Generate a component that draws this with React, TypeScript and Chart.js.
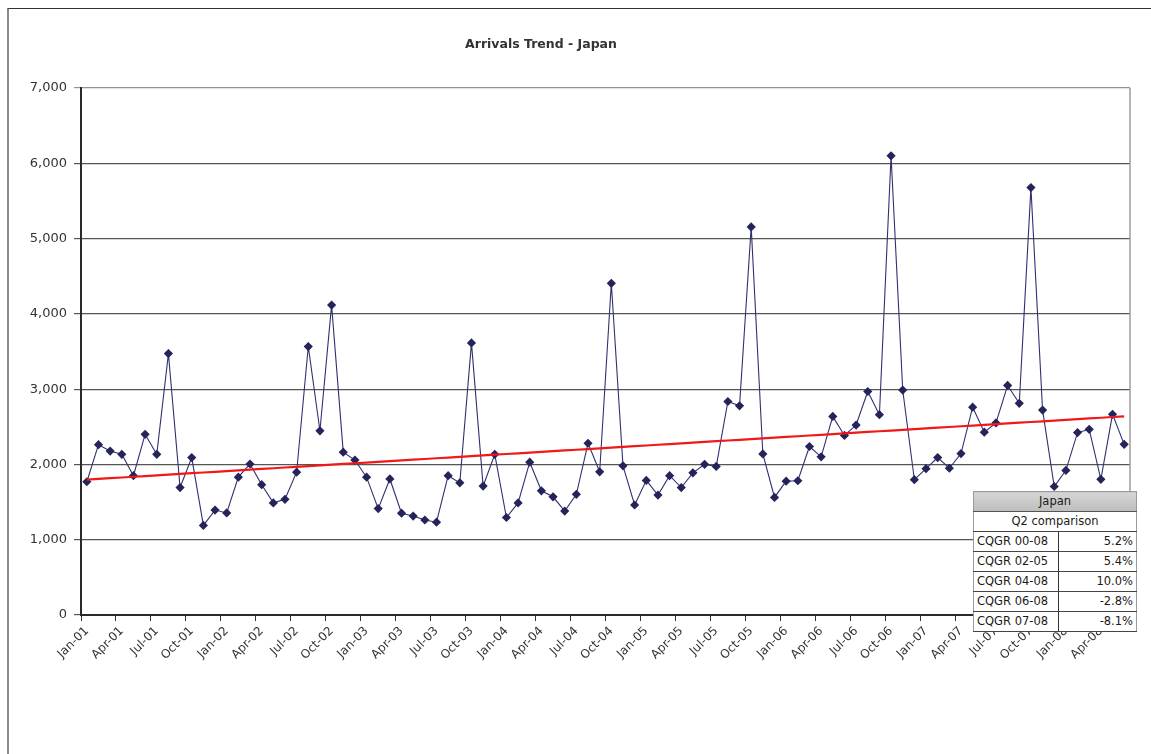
import { useEffect, useRef } from 'react';
import { Chart, registerables } from 'chart.js';

Chart.register(...registerables);

// Monthly categories, Jan-01 through Jun-08
const MONTHS = ['Jan', 'Feb', 'Mar', 'Apr', 'May', 'Jun', 'Jul', 'Aug', 'Sep', 'Oct', 'Nov', 'Dec'];
const YEARS = ['01', '02', '03', '04', '05', '06', '07', '08'];
const MONTH_COUNT = 90;
const categories: string[] = YEARS.flatMap((y) => MONTHS.map((m) => `${m}-${y}`)).slice(0, MONTH_COUNT);

// Monthly arrivals from Japan
const arrivals = [
  1770, 2262, 2177, 2134, 1850, 2400, 2134, 3472, 1693, 2091, 1190, 1394,
  1356, 1831, 2006, 1731, 1489, 1537, 1897, 3566, 2447, 4116, 2163, 2058,
  1831, 1413, 1807, 1352, 1314, 1262, 1233, 1850, 1755, 3614, 1712, 2134,
  1295, 1489, 2030, 1650, 1570, 1380, 1603, 2281, 1902, 4406, 1982, 1461,
  1788, 1593, 1850, 1693, 1888, 2001, 1973, 2836, 2779, 5155, 2139, 1562,
  1778, 1783, 2238, 2101, 2637, 2385, 2523, 2969, 2661, 6099, 2988, 1797,
  1944, 2091, 1949, 2144, 2760, 2428, 2551, 3049, 2812, 5677, 2722, 1707,
  1921, 2423, 2466, 1802, 2665, 2267,
];

// Y axis range
const Y_MIN = 0;
const Y_MAX = 7000;
const Y_STEP = 1000;

// Growth summary table
const tableTitle = 'Japan';
const tableSubtitle = 'Q2 comparison';
const growthLabels = ['CQGR 00-08', 'CQGR 02-05', 'CQGR 04-08', 'CQGR 06-08', 'CQGR 07-08'];
const growthValues = ['5.2%', '5.4%', '10.0%', '-2.8%', '-8.1%'];

// Least-squares linear trend over the monthly series
function linearTrend(values: number[]): number[] {
  const n = values.length;
  let sx = 0, sy = 0, sxx = 0, sxy = 0;
  values.forEach((v, i) => {
    sx += i; sy += v; sxx += i * i; sxy += i * v;
  });
  const slope = (n * sxy - sx * sy) / (n * sxx - sx * sx);
  const intercept = (sy - slope * sx) / n;
  return values.map((_, i) => intercept + slope * i);
}

const FONT = '"DejaVu Sans", Verdana, sans-serif';

const plotFrame = {
  id: 'plotFrame',
  afterDraw(chart: any) {
    const { ctx, chartArea } = chart;
    ctx.save();
    ctx.strokeStyle = '#a39a9a';
    ctx.lineWidth = 1.5;
    ctx.beginPath();
    ctx.moveTo(chartArea.right, chartArea.top);
    ctx.lineTo(chartArea.right, chartArea.bottom);
    ctx.stroke();
    ctx.restore();
  },
};

export default function App() {
  const canvasRef = useRef<HTMLCanvasElement | null>(null);

  useEffect(() => {
    if (!canvasRef.current) return;
    const trend = linearTrend(arrivals);
    const chart = new Chart(canvasRef.current, {
      type: 'line',
      data: {
        labels: categories,
        datasets: [
          {
            label: 'Trend',
            data: trend,
            borderColor: '#f01818',
            borderWidth: 2.2,
            pointRadius: 0,
            tension: 0,
            order: 0,
          },
          {
            label: 'Arrivals',
            data: arrivals,
            borderColor: '#303070',
            borderWidth: 1.1,
            pointStyle: 'rectRot',
            pointRadius: 4.6,
            pointBackgroundColor: '#24245a',
            pointBorderColor: '#24245a',
            pointBorderWidth: 0,
            tension: 0,
            order: 1,
          },
        ],
      },
      options: {
        responsive: false,
        animation: false,
        layout: { padding: { left: 0, top: 88, right: 21, bottom: 0 } },
        plugins: {
          legend: { display: false },
          title: { display: false },
          tooltip: { enabled: false },
        },
        scales: {
          x: {
            offset: true,
            grid: {
              offset: true,
              drawOnChartArea: false,
              tickLength: 6,
              tickWidth: 1,
              color: (ctx: any) => (ctx.index % 3 === 0 ? '#333333' : 'rgba(0,0,0,0)'),
            },
            border: { color: '#2a2a2a', width: 2 },
            ticks: {
              autoSkip: false,
              maxRotation: 45,
              minRotation: 45,
              padding: 3,
              color: '#333333',
              font: { family: FONT, size: 12 },
              callback: (_v: any, i: number) => (i % 3 === 0 ? categories[i] : ''),
            },
            afterFit: (scale: any) => {
              scale.height = 139;
            },
          },
          y: {
            min: Y_MIN,
            max: Y_MAX,
            grid: {
              tickLength: 7,
              lineWidth: 1.2,
              color: (ctx: any) => (ctx.tick && ctx.tick.value === Y_MAX ? '#9a9090' : '#555555'),
            },
            border: { color: '#2a2a2a', width: 2 },
            ticks: {
              stepSize: Y_STEP,
              padding: 7,
              color: '#333333',
              font: { family: FONT, size: 13 },
              callback: (v: any) => Number(v).toLocaleString('en-US'),
            },
            afterFit: (scale: any) => {
              scale.width = 81;
            },
          },
        },
      },
      plugins: [plotFrame],
    });
    return () => chart.destroy();
  }, []);

  const cell: any = {
    fontFamily: FONT,
    fontSize: 11.5,
    color: '#1a1a1a',
    height: 19,
    padding: '0 3px',
    lineHeight: '19px',
    whiteSpace: 'nowrap',
  };

  return (
    <div
      style={{
        position: 'fixed',
        left: 0,
        top: 0,
        width: 1151,
        height: 754,
        background: '#fff',
        overflow: 'hidden',
      }}
    >
      <div
        style={{
          position: 'absolute',
          left: 7,
          top: 8,
          width: 1160,
          height: 800,
          borderLeft: '2px solid #8c8c8c',
          borderTop: '1.5px solid #333',
          boxSizing: 'border-box',
        }}
      />
      <canvas
        ref={canvasRef}
        width={1151}
        height={754}
        style={{ position: 'absolute', left: 0, top: 0, display: 'block' }}
      />
      <div
        style={{
          position: 'absolute',
          left: 341,
          top: 36,
          width: 400,
          textAlign: 'center',
          fontFamily: FONT,
          fontWeight: 'bold',
          fontSize: 12.5,
          color: '#333',
        }}
      >
        Arrivals Trend - Japan
      </div>
      <table
        style={{
          position: 'absolute',
          left: 973,
          top: 491,
          width: 164,
          borderCollapse: 'collapse',
          background: '#fff',
          border: '1px solid #9a9a9a',
        }}
      >
        <tbody>
          <tr>
            <td
              colSpan={2}
              style={{
                ...cell,
                textAlign: 'center',
                background: 'linear-gradient(#d6d6d6, #bdbdbd)',
                borderBottom: '1px solid #555',
              }}
            >
              {tableTitle}
            </td>
          </tr>
          <tr>
            <td colSpan={2} style={{ ...cell, textAlign: 'center', borderBottom: '1px solid #444' }}>
              {tableSubtitle}
            </td>
          </tr>
          {growthLabels.map((lab, i) => (
            <tr key={lab}>
              <td style={{ ...cell, width: 78, borderRight: '1px solid #333', borderBottom: '1px solid #444' }}>
                {lab}
              </td>
              <td style={{ ...cell, textAlign: 'right', borderBottom: '1px solid #444' }}>{growthValues[i]}</td>
            </tr>
          ))}
        </tbody>
      </table>
    </div>
  );
}
